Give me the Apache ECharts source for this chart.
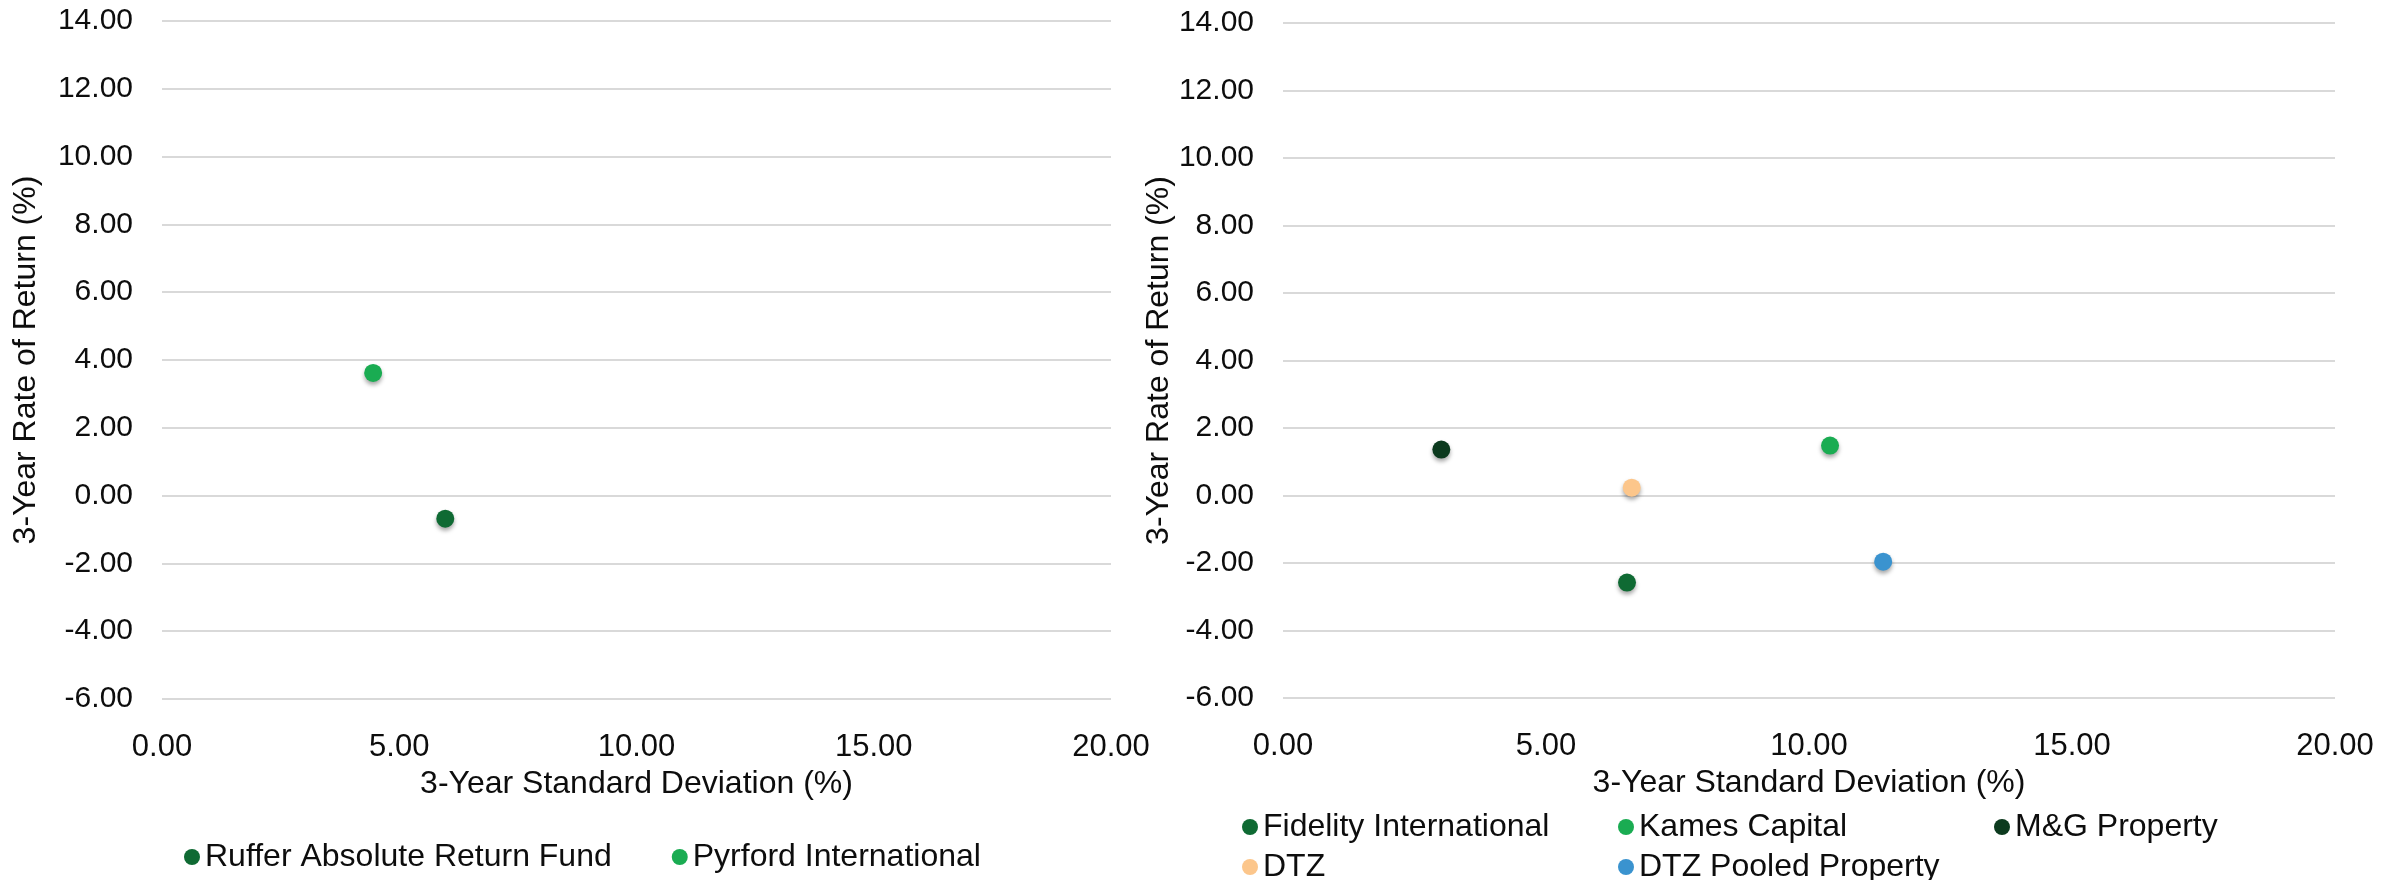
<!DOCTYPE html>
<html>
<head>
<meta charset="utf-8">
<script src="https://cdn.jsdelivr.net/npm/echarts@6/dist/echarts.min.js"></script>
<style>
  html, body { margin: 0; padding: 0; background: #ffffff; }
  #chart { width: 2405px; height: 880px; }
</style>
</head>
<body>
<div id="chart"></div>
<script>
// Risk / return of each manager: 3-year standard deviation (x) vs 3-year return (y), in %
const leftNames = ['Ruffer Absolute Return Fund', 'Pyrford International'];
const leftStdDev = [5.97, 4.45];
const leftReturn = [-0.68, 3.62];

const rightNames = ['Fidelity International', 'Kames Capital', 'M&G Property', 'DTZ', 'DTZ Pooled Property'];
const rightStdDev = [6.54, 10.40, 3.01, 6.63, 11.41];
const rightReturn = [-2.58, 1.48, 1.36, 0.23, -1.96];

const xTicks = [0, 5, 10, 15, 20];
const yTicks = [-6, -4, -2, 0, 2, 4, 6, 8, 10, 12, 14];

const xTitle = '3-Year Standard Deviation (%)';
const yTitle = '3-Year Rate of Return (%)';

// Marker colours
const leftColors = ['#0f6a33', '#1aac52'];
const rightColors = ['#0f6a33', '#1aac52', '#0c3a1e', '#fcc68b', '#3a93cf'];

const FONT = '"Liberation Sans", Arial, sans-serif';
const TEXT = '#0d0d0d';
const GRID_LINE = '#d9d9d9';

function xAxis(gridIndex) {
  return {
    type: 'value', gridIndex,
    min: xTicks[0], max: xTicks[xTicks.length - 1], interval: xTicks[1] - xTicks[0],
    name: xTitle, nameLocation: 'middle', nameGap: 68,
    nameTextStyle: { fontFamily: FONT, fontSize: 32, color: TEXT },
    axisLine: { show: false }, axisTick: { show: false },
    splitLine: { show: false },
    axisLabel: { fontFamily: FONT, fontSize: 31, color: TEXT, margin: 33,
      formatter: v => v.toFixed(2) }
  };
}

function yAxis(gridIndex, nameGap) {
  return {
    type: 'value', gridIndex,
    min: yTicks[0], max: yTicks[yTicks.length - 1], interval: yTicks[1] - yTicks[0],
    name: yTitle, nameLocation: 'middle', nameGap,
    nameTextStyle: { fontFamily: FONT, fontSize: 32, color: TEXT },
    axisLine: { show: false }, axisTick: { show: false },
    splitLine: { show: true, lineStyle: { color: GRID_LINE, width: 2 } },
    axisLabel: { fontFamily: FONT, fontSize: 30, color: TEXT, margin: 29,
      formatter: v => v.toFixed(2) }
  };
}

function scatter(name, x, y, color, idx) {
  return {
    type: 'scatter', name,
    xAxisIndex: idx, yAxisIndex: idx,
    data: [[x, y]],
    symbol: 'circle', symbolSize: 18,
    itemStyle: {
      color, opacity: 1,
      shadowColor: 'rgba(0,0,0,0.35)', shadowBlur: 4, shadowOffsetY: 3
    },
    emphasis: { disabled: true }
  };
}

const series = [];
leftNames.forEach((n, i) => series.push(scatter(n, leftStdDev[i], leftReturn[i], leftColors[i], 0)));
rightNames.forEach((n, i) => series.push(scatter(n, rightStdDev[i], rightReturn[i], rightColors[i], 1)));

const legendText = { fontFamily: FONT, fontSize: 32, color: TEXT };
const legendBase = {
  icon: 'circle', itemWidth: 16, itemHeight: 16, itemGap: 60,
  textStyle: legendText, padding: 0, selectedMode: false,
  itemStyle: { opacity: 1, shadowBlur: 0, shadowOffsetY: 0 }
};

// Right-hand legend is laid out as a 3-column table
const rightLegendPos = [[1242, 811], [1618, 811], [1994, 811], [1242, 851], [1618, 851]];
const legends = [Object.assign({}, legendBase, { data: leftNames, left: 184, top: 841 })];
rightNames.forEach((n, i) => {
  legends.push(Object.assign({}, legendBase, { data: [n], left: rightLegendPos[i][0], top: rightLegendPos[i][1] }));
});

const chart = echarts.init(document.getElementById('chart'), null, { renderer: 'canvas' });
chart.setOption({
  animation: false,
  backgroundColor: '#ffffff',
  grid: [
    { left: 162, top: 21, width: 949, height: 678 },
    { left: 1283, top: 23, width: 1052, height: 675 }
  ],
  xAxis: [xAxis(0), xAxis(1)],
  yAxis: [yAxis(0, 120), yAxis(1, 99)],
  legend: legends,
  series
});
</script>
</body>
</html>
